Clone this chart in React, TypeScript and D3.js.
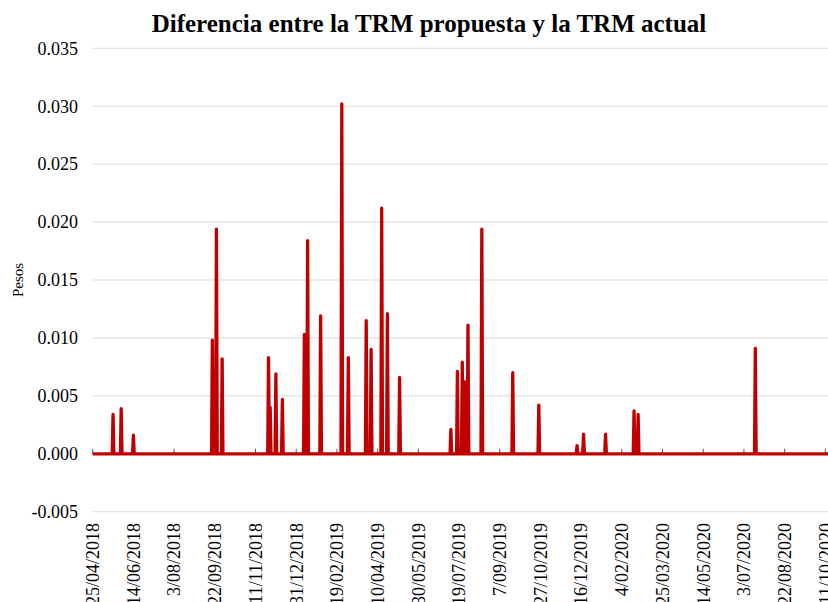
import { useEffect, useRef } from 'react';
import * as d3 from 'd3';

const width = 828;
const height = 602;
const plot = { left: 92.7, right: 828.6, top: 48.3, bottom: 511.7 };

const startDate = '2018-04-25';
const endDate = '2020-10-15';

// days where the difference is non zero, everything else sits on 0
const spikeDates = [
  '2018-05-20', '2018-05-30', '2018-06-14',
  '2018-09-19', '2018-09-24', '2018-10-01',
  '2018-11-27', '2018-11-29', '2018-12-06', '2018-12-14',
  '2019-01-10', '2019-01-14', '2019-01-30',
  '2019-02-25', '2019-03-05', '2019-03-27', '2019-04-02',
  '2019-04-15', '2019-04-22', '2019-05-07',
  '2019-07-09', '2019-07-17', '2019-07-23', '2019-07-26', '2019-07-30',
  '2019-08-16', '2019-09-23', '2019-10-25',
  '2019-12-11', '2019-12-19', '2020-01-15',
  '2020-02-19', '2020-02-24', '2020-07-17',
];
const spikeValues = [
  0.0034, 0.0039, 0.0016,
  0.0098, 0.0194, 0.0082,
  0.0083, 0.0040, 0.0069, 0.0047,
  0.0103, 0.0184, 0.0119,
  0.0302, 0.0083, 0.0115, 0.0090,
  0.0212, 0.0121, 0.0066,
  0.0021, 0.0071, 0.0079, 0.0062, 0.0111,
  0.0194, 0.0070, 0.0042,
  0.0007, 0.0017, 0.0017,
  0.0037, 0.0034, 0.0091,
];

const yTicks = [-0.005, 0, 0.005, 0.01, 0.015, 0.02, 0.025, 0.03, 0.035];
const xTickLabels = [
  '25/04/2018', '14/06/2018', '3/08/2018', '22/09/2018', '11/11/2018',
  '31/12/2018', '19/02/2019', '10/04/2019', '30/05/2019', '19/07/2019',
  '7/09/2019', '27/10/2019', '16/12/2019', '4/02/2020', '25/03/2020',
  '14/05/2020', '3/07/2020', '22/08/2020', '11/10/2020',
];

const fontFamily = '"Liberation Serif", "Times New Roman", serif';

const Chart = () => {
  const ref = useRef<SVGSVGElement>(null);

  useEffect(() => {
    const svg = d3.select(ref.current);
    svg.selectAll('*').remove();

    const parseIso = d3.utcParse('%Y-%m-%d');
    const parseLabel = d3.utcParse('%d/%m/%Y');
    const start = parseIso(startDate) as Date;
    const end = parseIso(endDate) as Date;

    const spikes = new Map<string, number>();
    spikeDates.forEach((d, i) => spikes.set(d, spikeValues[i]));

    const fmt = d3.utcFormat('%Y-%m-%d');
    const series = d3.utcDay
      .range(start, d3.utcDay.offset(end, 1))
      .map((d) => ({ date: d, value: spikes.get(fmt(d)) ?? 0 }));

    const x = d3.scaleUtc().domain([start, end]).range([plot.left, plot.right]);
    const y = d3.scaleLinear().domain([-0.005, 0.035]).range([plot.bottom, plot.top]);

    // gridlines
    svg
      .append('g')
      .selectAll('line')
      .data(yTicks.filter((t) => t !== 0))
      .enter()
      .append('line')
      .attr('x1', plot.left)
      .attr('x2', width)
      .attr('y1', (d) => y(d))
      .attr('y2', (d) => y(d))
      .style('stroke', '#d9d9d9')
      .style('stroke-width', 1);

    // y labels (plain hyphen for the negative one, like the original)
    svg
      .append('g')
      .selectAll('text')
      .data(yTicks)
      .enter()
      .append('text')
      .attr('x', 78)
      .attr('y', (d) => y(d))
      .attr('dy', '0.35em')
      .style('text-anchor', 'end')
      .style('font-family', fontFamily)
      .style('font-size', '18px')
      .style('fill', '#000')
      .text((d) => d.toFixed(3));

    // x axis on zero with tick marks
    const y0 = y(0);
    svg
      .append('line')
      .attr('x1', plot.left)
      .attr('x2', width)
      .attr('y1', y0)
      .attr('y2', y0)
      .style('stroke', '#595959')
      .style('stroke-width', 1);

    const tickDates = xTickLabels.map((l) => parseLabel(l) as Date);
    svg
      .append('g')
      .selectAll('line')
      .data(tickDates)
      .enter()
      .append('line')
      .attr('x1', (d) => x(d))
      .attr('x2', (d) => x(d))
      .attr('y1', y0 - 5)
      .attr('y2', y0)
      .style('stroke', '#595959')
      .style('stroke-width', 1);

    svg
      .append('g')
      .selectAll('text')
      .data(xTickLabels)
      .enter()
      .append('text')
      .attr('transform', (_d, i) => `translate(${x(tickDates[i])},523) rotate(-90)`)
      .attr('dy', '0.35em')
      .style('text-anchor', 'end')
      .style('font-family', fontFamily)
      .style('font-size', '18px')
      .style('fill', '#000')
      .text((d) => d);

    // the series
    const line = d3
      .line<{ date: Date; value: number }>()
      .x((d) => x(d.date))
      .y((d) => y(d.value));

    svg
      .append('path')
      .datum(series)
      .attr('d', line)
      .style('fill', 'none')
      .style('stroke', '#c00000')
      .style('stroke-width', 3.3)
      .style('stroke-linejoin', 'round');

    // title and y axis name
    svg
      .append('text')
      .attr('x', 429)
      .attr('y', 32)
      .style('text-anchor', 'middle')
      .style('font-family', fontFamily)
      .style('font-size', '25px')
      .style('font-weight', 'bold')
      .text('Diferencia entre la TRM propuesta y la TRM actual');

    svg
      .append('text')
      .attr('transform', `translate(23,${(plot.top + plot.bottom) / 2}) rotate(-90)`)
      .style('text-anchor', 'middle')
      .style('font-family', fontFamily)
      .style('font-size', '15px')
      .text('Pesos');
  }, []);

  return <svg ref={ref} width={width} height={height} style={{ display: 'block', background: 'white' }} />;
};

export default function App() {
  return (
    <div style={{ position: 'absolute', left: 0, top: 0, width, height, overflow: 'hidden' }}>
      <Chart />
    </div>
  );
}
